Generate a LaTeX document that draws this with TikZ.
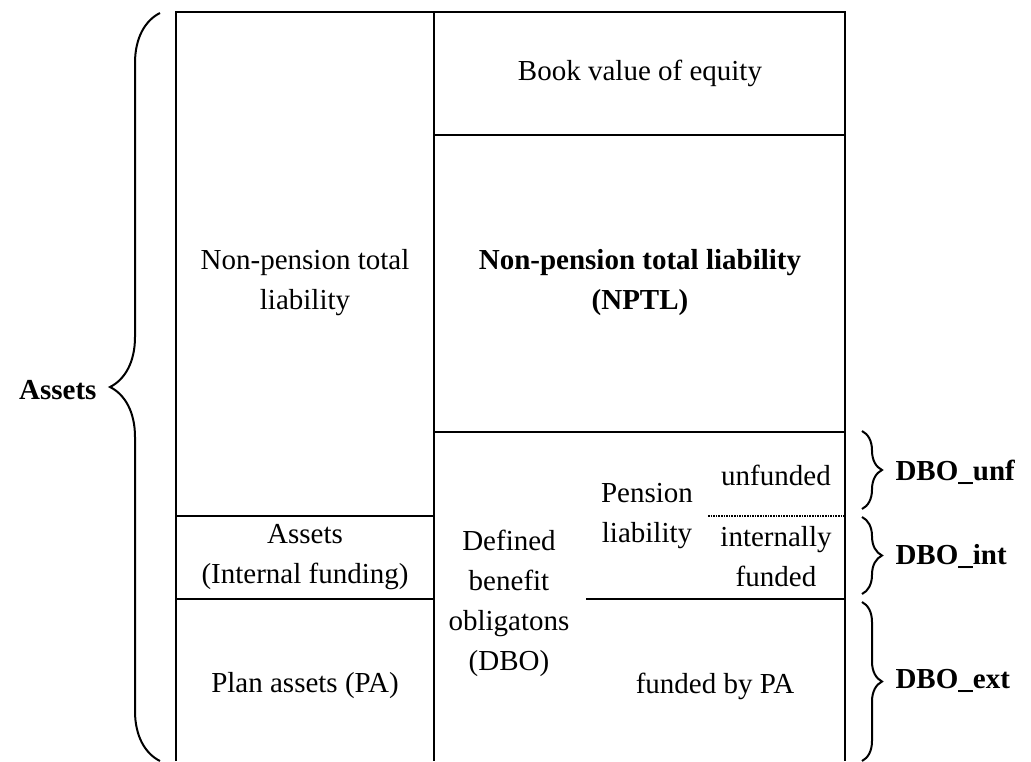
\documentclass[tikz,border=0pt]{standalone}
\usepackage{fontspec}
\setmainfont{Liberation Serif}
\usetikzlibrary{decorations.pathreplacing,calc}

\tikzset{
  frame/.style={line width=2.6pt},
  celltext/.style={align=center, font=\fontsize{29}{40}\selectfont},
  bracelabel/.style={font=\fontsize{29}{40}\selectfont\bfseries},
  bracedeco/.style={decorate, decoration={brace, amplitude=#1}, line width=2pt}
}

\begin{document}
\begin{tikzpicture}[x=1pt, y=-1pt]
\useasboundingbox (0,0) rectangle (1031,761);

% corners of the balance sheet
\coordinate (tl) at (176,12);
\coordinate (tm) at (434,12);
\coordinate (tr) at (845,12);
\coordinate (bl) at (176,761);
\coordinate (bm) at (434,761);
\coordinate (br) at (845,761);

% outer frame and middle split
\draw[frame] (bl) -- (tl) -- (tr) -- (br);
\draw[frame] (tm) -- (bm);

% right column rows
\coordinate (eqL) at (434,135);   \coordinate (eqR) at (845,135);
\coordinate (dboL) at (434,432);  \coordinate (dboR) at (845,432);
\coordinate (paL) at (586,599);   \coordinate (paR) at (845,599);
\coordinate (dotL) at (708,516);  \coordinate (dotR) at (845,516);
\draw[frame] (eqL) -- (eqR);
\draw[frame] (dboL) -- (dboR);
\draw[frame] (paL) -- (paR);
\draw[line width=1.6pt, densely dotted] (dotL) -- (dotR);

% left column rows
\coordinate (intT) at (176,516);  \coordinate (intTR) at (434,516);
\coordinate (intB) at (176,599);  \coordinate (intBR) at (434,599);
\draw[frame] (intT) -- (intTR);
\draw[frame] (intB) -- (intBR);

% cell texts
\node[celltext] (equity) at (640,73) {Book value of equity};
\node[celltext, font=\fontsize{29}{40}\selectfont\bfseries] (nptl) at (640,283) {Non-pension total liability\\(NPTL)};
\node[celltext] (nonpension) at (305,283) {Non-pension total\\liability};
\node[celltext] (internal) at (305,557) {Assets\\(Internal funding)};
\node[celltext] (planassets) at (305,686) {Plan assets (PA)};
\node[celltext] (dbo) at (509,603) {Defined\\benefit\\obligatons\\(DBO)};
\node[celltext] (pension) at (647,516) {Pension\\liability};
\node[celltext] (unfunded) at (776,475) {unfunded};
\node[celltext] (intfunded) at (776,557) {internally\\funded};
\node[celltext] (fundedpa) at (715,686) {funded by PA};

% braces
\coordinate (aB) at (160,761);  \coordinate (aT) at (160,13);
\coordinate (uT) at (862,431);  \coordinate (uB) at (862,509);
\coordinate (iT) at (862,517);  \coordinate (iB) at (862,594);
\coordinate (eT) at (862,602);  \coordinate (eB) at (862,761);
\draw[bracedeco=50] (aB) -- (aT);
\draw[bracedeco=20] (uT) -- (uB);
\draw[bracedeco=20] (iT) -- (iB);
\draw[bracedeco=20] (eT) -- (eB);

\node[bracelabel, anchor=east] (assets) at (100,390) {Assets};
\node[bracelabel, anchor=west] (unf) at (892,472) {DBO\_unf};
\node[bracelabel, anchor=west] (int) at (892,556) {DBO\_int};
\node[bracelabel, anchor=west] (ext) at (892,681) {DBO\_ext};
\end{tikzpicture}
\end{document}
